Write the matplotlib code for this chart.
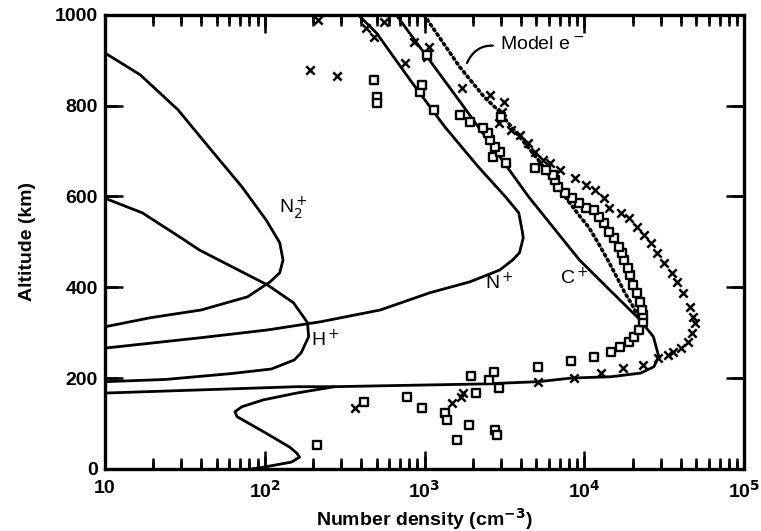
import matplotlib.pyplot as plt
from matplotlib.ticker import FixedLocator, FixedFormatter, NullFormatter

plt.rcParams['font.family'] = ['Liberation Sans', 'DejaVu Sans']
plt.rcParams.update({
    'xtick.direction': 'in', 'ytick.direction': 'in',
    'xtick.top': True, 'ytick.right': True,
    'xtick.major.size': 13, 'xtick.minor.size': 8, 'ytick.major.size': 13,
    'xtick.major.width': 1.8, 'xtick.minor.width': 1.8, 'ytick.major.width': 1.8,
    'axes.axisbelow': False,
})

# ion density profiles (cm^-3) against altitude (km)
n2_dens = [10, 16.6, 28.6, 46, 72, 102, 124, 130, 124, 108, 78, 40, 19.3, 10]
n2_alt = [916, 868, 791, 703, 621, 548, 498, 460, 432, 412, 379, 350, 333, 313]

h_dens = [10, 17.1, 29.3, 39, 104, 151, 185, 188, 169, 153, 110, 62, 24, 10]
h_alt = [596, 564, 511, 482, 405, 366, 322, 291, 256, 240, 220, 210, 197, 192]

np_dens = [384, 500, 810, 1340, 2170, 3210, 3880, 4070, 4140, 3920, 3550, 2950,
           1920, 1080, 528, 223, 104, 40, 10]
np_alt = [1000, 960, 857, 753, 665, 599, 564, 526, 509, 476, 460, 438,
          412, 388, 350, 324, 306, 289, 266]

cp_dens = [664, 1720, 4480, 9310, 22300, 27000, 29200, 27200, 22500, 14700, 8260,
           5140, 2270, 537, 273, 158, 40, 10]
cp_alt = [1000, 802, 599, 460, 328, 291, 247, 225, 211, 203, 200,
          192, 187, 183, 181, 181, 174, 167]

# low-altitude layer below the C+ ledge
low_dens = [273, 158, 98, 72, 65, 67, 99, 143, 158, 165, 147, 99, 83]
low_alt = [181, 167, 152, 137, 126, 115, 81, 48, 35, 26, 15, 4, 0]

# model electron density (dotted)
elec_dens = [990, 1660, 2360, 2860, 3830, 5130, 6880, 9230, 10700, 12400, 14300,
             15900, 17900, 19900, 21700, 23300]
elec_alt = [1000, 885, 819, 791, 736, 681, 619, 559, 531, 493, 454,
            423, 388, 361, 335, 317]

# measured electron densities, profile 1 (crosses)
cross_dens = [192, 284, 216, 432, 560, 479, 752, 853, 1060, 1030, 964, 1710,
              2570, 3150, 3070, 2940, 3450, 3940, 4430, 4910, 5510, 6090, 7050,
              8760, 10300, 11700, 13200, 14200, 16900, 19000, 21300, 23600,
              26200, 28600, 31600, 35100, 37700, 41300, 45800, 47900, 49200,
              47300, 44200, 40000, 35600, 33200, 28800, 23200, 17400, 12700,
              8630, 5140, 2890, 1750, 1700, 1480, 366]
cross_alt = [879, 866, 989, 971, 985, 952, 894, 940, 930, 907, 846, 839,
             824, 808, 786, 762, 747, 736, 718, 698, 681, 674, 659,
             641, 626, 615, 597, 575, 564, 553, 533, 515,
             498, 476, 454, 432, 412, 388, 357, 335, 322,
             300, 280, 267, 258, 251, 244, 229, 222, 211,
             200, 192, 178, 167, 159, 145, 134]

# measured electron densities, profile 2 (squares)
square_dens = [212, 416, 772, 959, 1340, 1380, 1600, 1890, 1960, 2110, 2540, 2720,
               2930, 2750, 2830, 5120, 8240, 11500, 14600, 16800, 18900, 20300,
               21800, 23400, 23300, 23000, 22300, 21300, 20100, 19200, 18600,
               17800, 17300, 16500, 15300, 14300, 13200, 12300, 11400, 10200,
               9200, 8300, 7610, 6880, 6580, 6380, 5770, 4920, 3240, 2680, 2970,
               2750, 2560, 2480, 2310, 1910, 1670, 2990, 1150, 938, 966, 1030,
               483, 506, 507]
square_alt = [53, 148, 159, 134, 123, 108, 64, 97, 205, 167, 196, 214,
              178, 86, 75, 225, 238, 247, 258, 269, 280, 291,
              306, 324, 339, 350, 368, 388, 405, 427, 443,
              460, 476, 489, 509, 522, 542, 555, 570, 575,
              586, 597, 608, 621, 637, 648, 659, 663, 674, 687, 698,
              709, 725, 740, 751, 764, 780, 775, 791, 830, 846, 912,
              857, 819, 806]

xtick_vals = [1e1, 1e2, 1e3, 1e4, 1e5]
xtick_labels = ['10', '10$^\\mathbf{2}$', '10$^\\mathbf{3}$', '10$^\\mathbf{4}$', '10$^\\mathbf{5}$']
xminor_vals = [m * 10.0 ** e for e in range(1, 5) for m in range(2, 10)]
ytick_vals = [0, 200, 400, 600, 800, 1000]

fig = plt.figure(figsize=(7.61, 5.31), dpi=100)
ax = fig.add_axes([0.138, 0.117, 0.840, 0.855])

lw = 2.0
for d, a in [(n2_dens, n2_alt), (h_dens, h_alt), (np_dens, np_alt),
             (cp_dens, cp_alt), (low_dens, low_alt)]:
    ax.plot(d, a, color='black', lw=lw, solid_capstyle='round', solid_joinstyle='round')

ax.plot(elec_dens, elec_alt, color='black', lw=2.6, linestyle=(0, (0.5, 1.1)),
        dash_capstyle='round')

ax.scatter(cross_dens, cross_alt, marker='x', s=36, color='black', linewidths=1.8, zorder=3)
ax.scatter(square_dens, square_alt, marker='s', s=28, facecolor='white',
           edgecolor='black', linewidths=1.7, zorder=3)

# curve labels
lab = dict(fontsize=14, color='black', ha='center', va='center')
ax.text(150, 575, 'N$_2^+$', **lab)
ax.text(240, 284, 'H$^+$', **lab)
ax.text(2960, 410, 'N$^+$', **lab)
ax.text(8700, 420, 'C$^+$', **lab)
ax.annotate('Model e$^-$', xy=(1840, 894), xytext=(2950, 934),
            fontsize=14, ha='left', va='center',
            arrowprops=dict(arrowstyle='-', color='black', lw=1.6,
                            connectionstyle='arc3,rad=0.4', relpos=(0, 0.4),
                            shrinkA=3, shrinkB=0))

ax.set_xscale('log')
ax.set_xlim(10, 1e5)
ax.set_ylim(0, 1000)

ax.xaxis.set_major_locator(FixedLocator(xtick_vals))
ax.xaxis.set_major_formatter(FixedFormatter(xtick_labels))
ax.xaxis.set_minor_locator(FixedLocator(xminor_vals))
ax.xaxis.set_minor_formatter(NullFormatter())
ax.yaxis.set_major_locator(FixedLocator(ytick_vals))

ax.tick_params(axis='x', which='major', direction='in', bottom=True, top=True,
               length=13, width=1.8, labelsize=14, pad=8)
ax.tick_params(axis='x', which='minor', direction='in', bottom=True, top=True,
               length=8, width=1.8)
ax.tick_params(axis='y', which='major', direction='in', left=True, right=True,
               length=13, width=1.8, labelsize=14, pad=5)
for t in ax.get_xticklabels() + ax.get_yticklabels():
    t.set_fontweight('bold')
for s in ax.spines.values():
    s.set_linewidth(2.4)

# inward tick strokes drawn on the frame so they always show
xt = ax.get_xaxis_transform()
yt = ax.get_yaxis_transform()
tick_style = dict(color='black', lw=1.8, clip_on=False, solid_capstyle='butt', zorder=4)
for v in xtick_vals[1:-1]:
    ax.plot([v, v], [0, 0.029], transform=xt, **tick_style)
    ax.plot([v, v], [1, 1 - 0.029], transform=xt, **tick_style)
for v in xminor_vals:
    ax.plot([v, v], [0, 0.018], transform=xt, **tick_style)
    ax.plot([v, v], [1, 1 - 0.018], transform=xt, **tick_style)
for v in ytick_vals[1:-1]:
    ax.plot([0, 0.02], [v, v], transform=yt, **tick_style)
    ax.plot([1, 1 - 0.02], [v, v], transform=yt, **tick_style)

ax.set_xlabel('Number density (cm$^{\\mathbf{-3}}$)', fontsize=14, fontweight='bold', labelpad=3)
ax.set_ylabel('Altitude (km)', fontsize=14, fontweight='bold', labelpad=14)

fig.savefig('out.png', dpi=100)
